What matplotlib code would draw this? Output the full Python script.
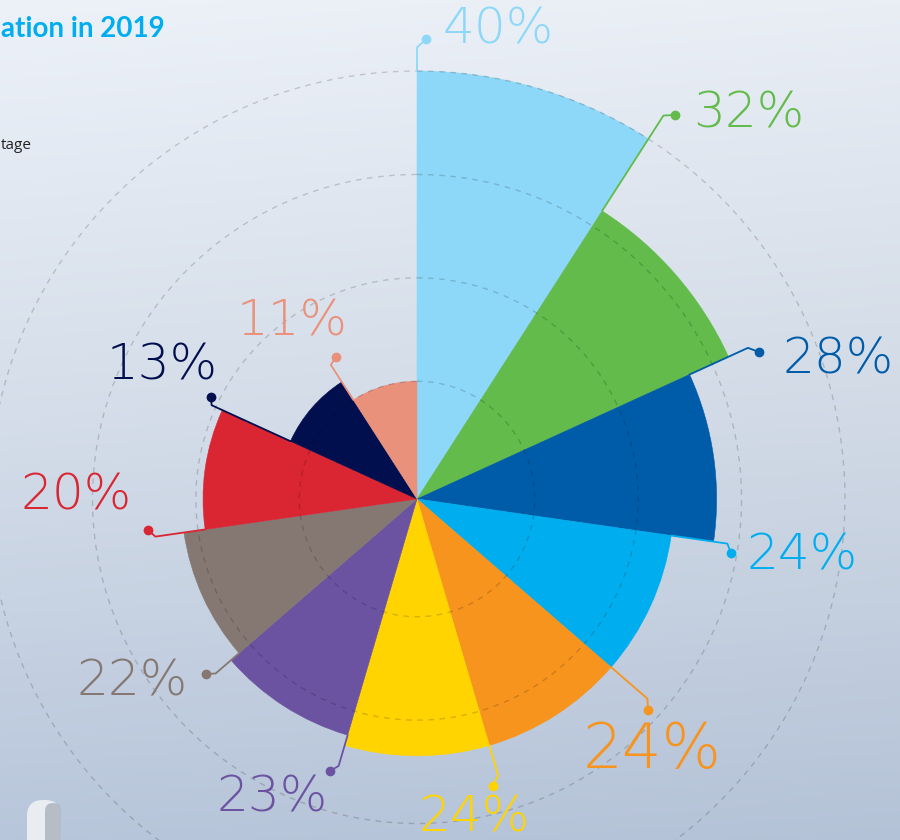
import numpy as np
import matplotlib
matplotlib.use("Agg")
import matplotlib.pyplot as plt
from matplotlib.patches import FancyBboxPatch

# ---------------- data ----------------
values = [40, 32, 28, 24, 24, 24, 23, 22, 20, 13, 11]
colors = ["#8DD8F8", "#62BB4B", "#005CA9", "#00AEEF", "#F7941E", "#FFD400",
          "#6C53A2", "#857872", "#DA2532", "#020F4F", "#EA917C"]
labels = [f"{v}%" for v in values]
grid_levels = [11, 20.67, 30.33, 40]
title = "ation in 2019"
subtitle = "tage"

# ---------------- layout (pixel positions on the 900x840 canvas) ----------------
leader_end_r = [42.2, 42.6, 34.0, 29.3, 28.5, 26.9, 26.0, 24.9, 24.7, 21.1, 14.9]
dot_px = [(426, 39), (675, 115), (759, 352), (731, 553), (648, 710), (493, 786),
          (330, 771), (206, 674), (148, 530), (211, 397), (336, 357)]
label_px = [(443, 43), (693, 127), (783, 373), (747, 570), (583, 768), (418, 831),
            (217, 811), (76, 695), (20, 510), (107, 379), (237, 335)]
label_size = [36, 36, 36, 36, 45, 36, 36, 36, 36, 36, 36]

W, H = 900, 840
fig = plt.figure(figsize=(W / 100, H / 100), dpi=100)

# background gradient
bg = fig.add_axes([0, 0, 1, 1], zorder=0)
yy = np.linspace(0, 1, H)[:, None]
xx = np.linspace(0, 1, W)[None, :]
top = np.array([237, 242, 249]) / 255
mid = np.array([212, 221, 233]) / 255
bot = np.array([184, 198, 219]) / 255
t1 = np.clip(yy / 0.5, 0, 1)
t2 = np.clip((yy - 0.5) / 0.5, 0, 1)
grad = np.where((yy < 0.5)[..., None],
                top * (1 - t1[..., None]) + mid * t1[..., None],
                mid * (1 - t2[..., None]) + bot * t2[..., None])
grad = grad * np.ones((1, W, 1)) - 0.015 * xx[..., None]
grad = np.clip(grad, 0, 1)
bg.imshow(grad, extent=[0, W, H, 0], aspect="auto")
bg.set_xlim(0, W)
bg.set_ylim(H, 0)
bg.axis("off")
# wind-turbine tower hint from the background photo
bg.add_patch(FancyBboxPatch((27, 800), 34, 80, boxstyle="round,pad=0,rounding_size=16",
                            fc="#e9ecf0", ec="none"))
bg.add_patch(FancyBboxPatch((45, 803), 16, 80, boxstyle="round,pad=0,rounding_size=8",
                            fc="#aab2bc", ec="none", alpha=0.8))

# polar rose chart
cx, cy, R = 417, 499, 428
ax = fig.add_axes([(cx - R) / W, (H - cy - R) / H, 2 * R / W, 2 * R / H],
                  projection="polar", zorder=1)
ax.set_theta_zero_location("N")
ax.set_theta_direction(-1)
ax.set_ylim(0, 40)
ax.axis("off")

n = len(values)
width = 2 * np.pi / n
theta = np.arange(n) * width
bars = ax.bar(theta, values, width=width, align="edge", color=colors,
              edgecolor=colors, linewidth=0.4, zorder=2)
for b in bars:
    b.set_clip_on(False)

th = np.linspace(0, 2 * np.pi, 400)
for r in grid_levels:
    ax.plot(th, np.full_like(th, r), color=(0, 0, 0, 0.17), lw=1.0,
            ls=(0, (4, 4)), zorder=3, clip_on=False)

# overlay for leaders and labels in pixel units
lay = fig.add_axes([0, 0, 1, 1], zorder=2)
lay.set_xlim(0, W)
lay.set_ylim(H, 0)
lay.axis("off")
lay.patch.set_alpha(0)

fig.canvas.draw()
inv = lay.transData.inverted()


def to_px(t, r):
    return inv.transform(ax.transData.transform((t, r)))


for i in range(n):
    p0 = to_px(theta[i], values[i])
    p1 = to_px(theta[i], leader_end_r[i])
    d = dot_px[i]
    lay.plot([p0[0], p1[0], d[0]], [p0[1], p1[1], d[1]], color=colors[i],
             lw=1.3, solid_capstyle="round", solid_joinstyle="round")
    lay.plot([d[0]], [d[1]], "o", color=colors[i], ms=6)
    lay.text(label_px[i][0], label_px[i][1], labels[i], color=colors[i],
             fontsize=label_size[i], ha="left", va="baseline",
             family=["DejaVu Sans"], fontweight="light")

fig.text(1 / W, 1 - 37 / H, title, ha="left", va="baseline", color="#00AEEF",
         fontsize=20, fontweight="bold", family=["Lato", "DejaVu Sans"])
fig.text(1 / W, 1 - 149 / H, subtitle, ha="left", va="baseline", color="#222222",
         fontsize=11, family=["Open Sans", "DejaVu Sans"])

fig.savefig("out.png", dpi=100)
